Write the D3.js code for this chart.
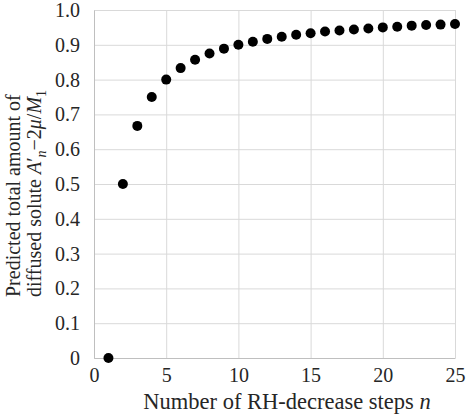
<!DOCTYPE html>
<html>
<head>
<meta charset="utf-8">
<script src="https://cdn.jsdelivr.net/npm/d3@7"></script>
<style>
  body { margin: 0; background: #fff; }
  svg text { font-family: "Liberation Serif", "DejaVu Serif", "Times New Roman", serif; fill: #262626; }
</style>
</head>
<body>
<div id="chart"></div>
<script>
// number of RH-decrease steps
const steps = [1, 2, 3, 4, 5, 6, 7, 8, 9, 10, 11, 12, 13, 14, 15, 16, 17, 18, 19, 20, 21, 22, 23, 24, 25];
// predicted total amount of diffused solute
const amounts = [0, 0.5, 0.667, 0.75, 0.8, 0.833, 0.857, 0.875, 0.889, 0.9, 0.909, 0.917, 0.923,
    0.929, 0.933, 0.938, 0.941, 0.944, 0.947, 0.95, 0.952, 0.955, 0.957, 0.958, 0.96];
const x_ticks = [0, 5, 10, 15, 20, 25];
const y_ticks = [0, 0.1, 0.2, 0.3, 0.4, 0.5, 0.6, 0.7, 0.8, 0.9, 1.0];

const width = 469, height = 420;
const margin = {left: 94, right: 14, top: 10, bottom: 62};
const w = width - margin.left - margin.right;
const h = height - margin.top - margin.bottom;
const fs = "20px";

const svg = d3.select("#chart").append("svg")
    .attr("width", width)
    .attr("height", height);
const chart = svg.append("g")
    .attr("transform", "translate(" + margin.left + "," + margin.top + ")");

const xScale = d3.scaleLinear().domain([0, 25]).range([0, w]);
const yScale = d3.scaleLinear().domain([0, 1]).range([h, 0]);

// gridlines
chart.append("g")
    .attr("class", "grid")
    .call(d3.axisLeft(yScale).tickValues(y_ticks).tickSize(-w).tickFormat(""))
    .call(g => g.select(".domain").remove())
    .call(g => g.selectAll("line").attr("stroke", "#d9d9d9"));
chart.append("g")
    .attr("class", "grid")
    .attr("transform", "translate(0," + h + ")")
    .call(d3.axisBottom(xScale).tickValues(x_ticks).tickSize(-h).tickFormat(""))
    .call(g => g.select(".domain").remove())
    .call(g => g.selectAll("line").attr("stroke", "#d9d9d9"));

// axes
const xAxis = chart.append("g")
    .attr("transform", "translate(0," + h + ")")
    .call(d3.axisBottom(xScale).tickValues(x_ticks).tickSize(0).tickPadding(10).tickFormat(d3.format("d")));
const yAxis = chart.append("g")
    .call(d3.axisLeft(yScale).tickValues(y_ticks).tickSize(0).tickPadding(14)
        .tickFormat(d => d === 0 ? "0" : d3.format(".1f")(d)));
[xAxis, yAxis].forEach(a => {
    a.attr("font-family", null).attr("font-size", null);
    a.select(".domain").attr("stroke", "#bfbfbf");
    a.selectAll("text").style("font-size", fs).attr("fill", "#262626");
});

// points
chart.selectAll("circle.pt")
    .data(steps)
    .enter().append("circle")
    .attr("class", "pt")
    .attr("cx", d => xScale(d))
    .attr("cy", (d, i) => yScale(amounts[i]))
    .attr("r", 5)
    .attr("fill", "#000");

// x title
svg.append("text")
    .attr("x", 287)
    .attr("y", 409)
    .attr("text-anchor", "middle")
    .style("font-size", "22.5px")
    .text("Number of RH-decrease steps ")
    .append("tspan").style("font-style", "italic").text("n");

// y title
const yt = svg.append("g").attr("transform", "translate(0,297) rotate(-90)");
yt.append("text")
    .attr("x", 0).attr("y", 20)
    .style("font-size", fs)
    .text("Predicted total amount of");
const l2 = yt.append("text")
    .attr("x", 0).attr("y", 41)
    .style("font-size", fs);
l2.append("tspan").text("diffused solute ");
l2.append("tspan").style("font-style", "italic").text("A");
l2.append("tspan").text("\u2032");
l2.append("tspan").style("font-style", "italic").style("font-size", "14px").attr("dy", 5).text("n");
l2.append("tspan").attr("dy", -5).text("\u22122");
l2.append("tspan").style("font-style", "italic").text("\u03bc");
l2.append("tspan").text("/");
l2.append("tspan").style("font-style", "italic").text("M");
l2.append("tspan").style("font-size", "14px").attr("dy", 5).text("1");
</script>
</body>
</html>
